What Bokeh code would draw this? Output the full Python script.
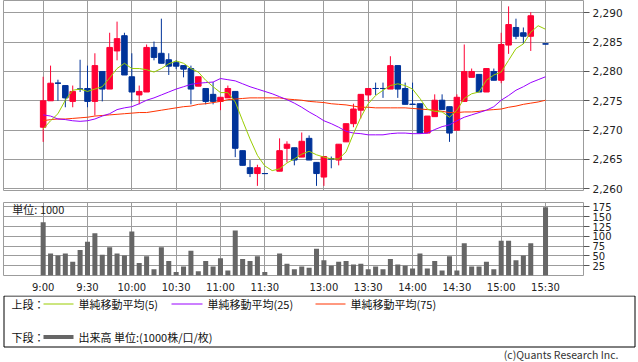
from bokeh.plotting import figure
from bokeh.layouts import column, row
from bokeh.models import FixedTicker, NumeralTickFormatter, Range1d, Label, ColumnDataSource
from bokeh.embed import file_html
from bokeh.resources import INLINE

# ---------------- data ----------------
def hhmm(m):
    return f"{m // 60}:{m % 60:02d}"

# 5-minute candle times (morning 9:00-11:30, afternoon 12:30-15:20, then 15:30)
candle_times = [hhmm(m) for m in range(540, 691, 5)] + [hhmm(m) for m in range(750, 921, 5)] + ["15:30"]

opens = [2270.5, 2275.0, 2278.0, 2277.6, 2274.9, 2277.0, 2277.1, 2274.9, 2280.0, 2277.0,
         2283.5, 2286.1, 2279.1, 2276.0, 2276.5, 2284.1, 2283.1, 2282.0, 2281.5, 2281.0,
         2280.5, 2277.5, 2277.1, 2276.1, 2274.9, 2275.5, 2276.6, 2266.5, 2263.6, 2262.6,
         2262.6,
         2263.0, 2266.9, 2267.0, 2265.4, 2268.6, 2264.5, 2262.0, 2265.1, 2264.9, 2268.0,
         2271.1, 2273.4, 2276.0, 2277.1, 2277.1, 2277.0, 2281.0, 2277.1, 2274.4, 2274.5,
         2269.5, 2272.3, 2275.1, 2274.0, 2270.0, 2274.9, 2279.0, 2279.5, 2276.5, 2280.0,
         2278.5, 2284.5, 2287.5, 2286.6, 2286.0, 2284.7]
highs = [2279.1, 2281.0, 2278.6, 2277.6, 2277.6, 2282.0, 2281.0, 2283.1, 2280.0, 2286.6,
         2288.5, 2286.6, 2283.1, 2277.6, 2284.6, 2285.1, 2289.0, 2283.1, 2281.9, 2281.0,
         2281.0, 2279.1, 2277.1, 2278.2, 2275.6, 2277.6, 2276.6, 2266.5, 2264.9, 2264.1,
         2262.6,
         2268.6, 2268.1, 2267.0, 2269.6, 2269.1, 2264.5, 2265.5, 2265.5, 2267.6, 2271.1,
         2274.5, 2276.1, 2277.1, 2278.1, 2278.1, 2282.6, 2281.0, 2278.1, 2278.1, 2274.5,
         2272.4, 2276.1, 2276.1, 2274.0, 2276.1, 2284.6, 2280.5, 2279.5, 2280.5, 2280.5,
         2286.6, 2291.1, 2289.0, 2287.5, 2290.1, 2284.7]
lows = [2268.0, 2275.0, 2275.0, 2273.9, 2273.9, 2276.5, 2273.9, 2272.5, 2274.9, 2277.0,
        2281.9, 2279.4, 2274.9, 2274.4, 2276.5, 2281.9, 2281.4, 2279.4, 2280.4, 2279.0,
        2274.4, 2277.5, 2274.4, 2274.4, 2273.4, 2275.5, 2265.4, 2264.0, 2262.0, 2260.5,
        2262.6,
        2263.0, 2264.5, 2264.0, 2265.4, 2264.9, 2260.5, 2260.5, 2263.5, 2264.0, 2268.0,
        2270.5, 2272.0, 2274.9, 2276.0, 2275.5, 2277.0, 2275.5, 2274.4, 2274.4, 2269.5,
        2269.5, 2272.3, 2273.5, 2268.0, 2270.0, 2274.9, 2279.0, 2276.5, 2276.5, 2278.5,
        2278.0, 2283.0, 2285.5, 2284.7, 2283.5, 2284.7]
closes = [2275.0, 2278.0, 2278.0, 2275.5, 2276.6, 2277.0, 2274.9, 2281.0, 2277.0, 2284.1,
          2285.6, 2279.4, 2276.5, 2276.6, 2284.1, 2282.4, 2281.4, 2280.9, 2280.9, 2280.4,
          2277.0, 2279.1, 2274.9, 2274.9, 2275.6, 2277.1, 2266.9, 2264.0, 2262.6, 2263.6,
          2262.6,
          2266.5, 2267.6, 2264.9, 2268.1, 2264.9, 2262.6, 2265.5, 2265.1, 2267.6, 2271.1,
          2273.6, 2276.1, 2277.1, 2277.1, 2277.1, 2281.0, 2277.0, 2274.4, 2274.4, 2269.5,
          2272.4, 2275.1, 2273.5, 2269.5, 2275.6, 2280.0, 2280.0, 2276.5, 2280.5, 2278.5,
          2284.6, 2288.0, 2286.0, 2286.0, 2289.5, 2284.7]
volumes = [136, 56, 51, 56, 35, 65, 86, 108, 53, 72,
           56, 51, 112, 32, 49, 16, 72, 37, 9, 23,
           63, 11, 37, 23, 44, 13, 115, 42, 37, 49,
           9,
           56, 30, 16, 23, 20, 68, 39, 25, 35, 37,
           28, 30, 16, 23, 16, 42, 28, 25, 18, 56,
           18, 37, 13, 49, 13, 82, 23, 23, 35, 16,
           89, 89, 39, 51, 82, 174]

# moving averages on every 5-minute slot of the axis (slot 0 = 9:00 ... slot 68 = 15:30)
ma5 = [2270.2, 2271.6, 2272.8, 2275.1, 2276.8, 2277.0, 2276.6, 2277.0, 2277.4, 2278.9,
       2280.5, 2281.4, 2280.5, 2280.5, 2280.3, 2279.9, 2280.5, 2281.3, 2281.8, 2281.4,
       2280.5, 2279.9, 2278.5, 2277.4, 2276.4, 2276.4, 2274.8, 2271.6, 2268.5, 2265.7,
       2263.9, 2263.1, 2263.4, 2264.4, 2265.1, 2265.9, 2266.4, 2265.8, 2265.4, 2265.1,
       2265.1, 2266.3, 2269.4, 2272.2, 2274.5, 2275.9, 2276.8, 2277.6, 2277.9, 2277.6,
       2277.0, 2275.4, 2273.6, 2273.2, 2273.1, 2272.2, 2273.4, 2275.4, 2276.2, 2276.5,
       2278.5, 2279.4, 2279.9, 2281.9, 2283.9, 2284.7, 2286.7, 2287.8, 2287.2]
ma25 = [2272.6, 2272.4, 2271.9, 2271.8, 2271.6, 2271.5, 2271.6, 2271.9, 2272.4, 2272.8,
        2273.5, 2273.8, 2274.0, 2274.5, 2275.1, 2275.5, 2276.0, 2276.5, 2277.0, 2277.4,
        2277.8, 2278.0, 2278.1, 2278.2, 2278.8, 2278.6, 2278.4, 2277.9, 2277.4, 2277.0,
        2276.6, 2276.2, 2275.7, 2275.2, 2274.6, 2273.9, 2273.1, 2272.4, 2271.6, 2271.1,
        2270.5, 2269.8, 2269.5, 2269.4, 2269.2, 2269.2, 2269.2, 2269.4, 2269.5, 2269.5,
        2269.4, 2269.4, 2269.5, 2270.1, 2270.6, 2270.9, 2271.6, 2272.2, 2272.6, 2273.0,
        2273.4, 2274.0, 2275.1, 2275.9, 2276.8, 2277.4, 2278.1, 2278.6, 2279.1]
ma75 = [2271.6, 2271.8, 2271.9, 2271.9, 2272.0, 2272.1, 2272.2, 2272.4, 2272.5, 2272.6,
        2272.7, 2272.8, 2272.9, 2273.0, 2273.0, 2273.2, 2273.4, 2273.6, 2273.8, 2274.0,
        2274.1, 2274.4, 2274.5, 2274.7, 2274.9, 2275.2, 2275.3, 2275.4, 2275.5, 2275.5,
        2275.5, 2275.5, 2275.5, 2275.3, 2275.2, 2275.1, 2274.9, 2274.8, 2274.7, 2274.5,
        2274.4, 2274.3, 2274.1, 2273.9, 2273.9, 2273.8, 2273.8, 2273.8, 2273.8, 2273.8,
        2273.7, 2273.6, 2273.5, 2273.4, 2273.2, 2273.0, 2273.0, 2273.1, 2273.1, 2273.2,
        2273.4, 2273.5, 2273.6, 2273.9, 2274.1, 2274.4, 2274.6, 2274.8, 2275.1]

tick_labels = ["9:00", "9:30", "10:00", "10:30", "11:00", "11:30",
               "13:00", "13:30", "14:00", "14:30", "15:00", "15:30"]
price_ticks = [2260, 2265, 2270, 2275, 2280, 2285, 2290]
volume_ticks = [25, 50, 75, 100, 125, 150, 175]

# ---------------- helpers ----------------
def slot(t):
    h, m = map(int, t.split(":"))
    mins = (h - 9) * 60 + m
    s = mins // 5
    return s if mins <= 150 else s - 10  # lunch break compressed

UP, DOWN = "#ff0033", "#003399"
GRID = "#9c9c9c"
NUM_FONT = "DejaVu Sans"
JP_FONT = "Noto Sans CJK JP"

xs = [slot(t) for t in candle_times]
colors = [UP if c > o else DOWN for o, c in zip(opens, closes)]
src = ColumnDataSource(dict(
    x=xs, open=opens, high=highs, low=lows, close=closes,
    top=[max(o, c) for o, c in zip(opens, closes)],
    bottom=[min(o, c) for o, c in zip(opens, closes)],
    color=colors))
doji = [i for i in range(len(xs)) if opens[i] == closes[i]]
doji_src = ColumnDataSource(dict(
    x0=[xs[i] - 0.4 for i in doji], x1=[xs[i] + 0.4 for i in doji],
    y=[closes[i] for i in doji], color=[colors[i] for i in doji]))
ma_x = list(range(len(ma5)))
tick_x = [slot(t) for t in tick_labels]

X_RANGE = (-5.37, 73.14)
W = 638

# ---------------- price panel ----------------
p1 = figure(width=W, height=201, x_range=Range1d(*X_RANGE), y_range=Range1d(2259.71, 2292.1),
            x_axis_location=None, y_axis_location="right", toolbar_location=None,
            output_backend="svg", min_border_left=3, min_border_right=55,
            min_border_top=0, min_border_bottom=11)
p1.outline_line_color = GRID
p1.xgrid.ticker = FixedTicker(ticks=tick_x)
p1.grid.grid_line_color = GRID
p1.yaxis.ticker = FixedTicker(ticks=price_ticks)
p1.yaxis.formatter = NumeralTickFormatter(format="0,0")
p1.yaxis.axis_line_color = None
p1.yaxis.major_tick_out = 6
p1.yaxis.major_tick_in = 0
p1.yaxis.major_tick_line_color = "#555555"
p1.yaxis.minor_tick_line_color = None
p1.yaxis.major_label_standoff = 3
p1.yaxis.major_label_text_font = NUM_FONT
p1.yaxis.major_label_text_font_size = "10.5px"
p1.yaxis.major_label_text_color = "#222222"

p1.segment(x0="x", y0="high", x1="x", y1="low", line_color="color", line_width=1, source=src)
p1.vbar(x="x", width=0.75, top="top", bottom="bottom", fill_color="color",
        line_color="color", line_width=1, source=src)
p1.segment(x0="x0", y0="y", x1="x1", y1="y", line_color="color", line_width=1, source=doji_src)
p1.line(ma_x, ma75, line_color="#ff3300", line_width=1)
p1.line(ma_x, ma25, line_color="#9900ff", line_width=1)
p1.line(ma_x, ma5, line_color="#99cc00", line_width=1)

# ---------------- volume panel ----------------
p2 = figure(width=W, height=94, x_range=Range1d(*X_RANGE), y_range=Range1d(0, 186.3),
            y_axis_location="right", toolbar_location=None, output_backend="svg",
            min_border_left=3, min_border_right=55, min_border_top=1, min_border_bottom=14)
p2.outline_line_color = GRID
p2.grid.grid_line_color = GRID
p2.xaxis.ticker = FixedTicker(ticks=tick_x)
p2.xaxis.major_label_overrides = {s: l for s, l in zip(tick_x, tick_labels)}
p2.xaxis.axis_line_color = None
p2.xaxis.major_tick_line_color = None
p2.xaxis.minor_tick_line_color = None
p2.xaxis.major_label_standoff = 0
p2.xaxis.major_label_text_font = NUM_FONT
p2.xaxis.major_label_text_font_size = "10px"
p2.xaxis.major_label_text_color = "#222222"
p2.yaxis.ticker = FixedTicker(ticks=volume_ticks)
p2.yaxis.axis_line_color = None
p2.yaxis.major_tick_out = 6
p2.yaxis.major_tick_in = 0
p2.yaxis.major_tick_line_color = "#555555"
p2.yaxis.minor_tick_line_color = None
p2.yaxis.major_label_standoff = 3
p2.yaxis.major_label_text_font = NUM_FONT
p2.yaxis.major_label_text_font_size = "10px"
p2.yaxis.major_label_text_color = "#222222"
p2.vbar(x=xs, top=volumes, width=0.68, fill_color="#666666", line_color=None)
p2.add_layout(Label(x=X_RANGE[0] + 1.2, y=169, text="単位: 1000", text_baseline="middle",
                    text_font=JP_FONT, text_font_size="11px", text_color="#222222"))

# ---------------- legend panel ----------------
p3 = figure(width=W, height=67, x_range=Range1d(0, 638), y_range=Range1d(362, 295),
            x_axis_location=None, y_axis_location=None, toolbar_location=None,
            output_backend="svg", min_border=0)
p3.grid.visible = False
p3.outline_line_color = None
p3.quad(left=[3.5], right=[634.5], top=[295.5], bottom=[346.5], fill_color=None,
        line_color="#000000", line_width=1)
p3.segment(x0=[43, 171, 315], y0=[303.5, 303.5, 303.5], x1=[73, 202, 345], y1=[303.5, 303.5, 303.5],
           line_color=["#99cc00", "#9900ff", "#ff3300"], line_width=1)
p3.segment(x0=[43], y0=[336.5], x1=[73], y1=[336.5], line_color="#666666", line_width=4)
legend_texts = [(11, 303.5, "上段："), (78, 303.5, "単純移動平均(5)"), (207, 303.5, "単純移動平均(25)"),
                (350, 303.5, "単純移動平均(75)"), (11, 336.5, "下段："),
                (78, 336.5, "出来高 単位:(1000株/口/枚)")]
for lx, ly, txt in legend_texts:
    p3.add_layout(Label(x=lx, y=ly, text=txt, text_baseline="middle", text_font=JP_FONT,
                        text_font_size="11px", text_color="#111111"))
p3.add_layout(Label(x=618, y=353.5, text="(c)Quants Research Inc.", text_align="right",
                    text_baseline="middle", text_font=JP_FONT, text_font_size="10.5px",
                    text_color="#333333"))

layout = column(p1, p2, row(p3), spacing=0)
open("out.html", "w").write(file_html(layout, INLINE))
